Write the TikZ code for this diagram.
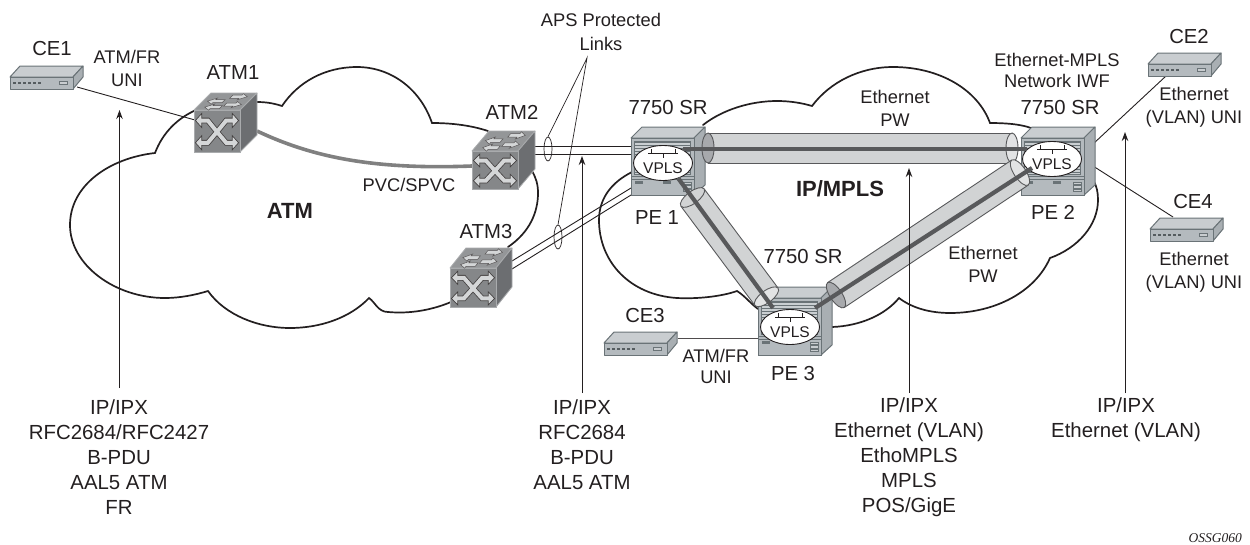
\documentclass[tikz,border=0pt]{standalone}
\usepackage{fontspec}
\setmainfont{Liberation Sans}
\newfontfamily\reffont{Liberation Serif}
\usetikzlibrary{arrows.meta,shapes.geometric}
\definecolor{ink}{HTML}{231F20}
\definecolor{cubefront}{HTML}{858789}
\definecolor{cubetop}{HTML}{949698}
\definecolor{cubeside}{HTML}{6C6E71}
\definecolor{cubeedge}{HTML}{A9ABAD}
\definecolor{xlight}{HTML}{D4D6D7}
\definecolor{devfront}{HTML}{B4BABE}
\definecolor{devtop}{HTML}{C9CDD0}
\definecolor{devside}{HTML}{A9AFB3}
\definecolor{devedge}{HTML}{6A7377}
\definecolor{tubebody}{HTML}{D1D3D4}
\definecolor{tubeedge}{HTML}{58595B}
\definecolor{tubeend}{HTML}{A7A9AC}
\definecolor{tubefar}{HTML}{E2E3E4}
\definecolor{pwline}{HTML}{58595B}
\tikzset{
  cloudline/.style={draw=ink,line width=1.7pt,line cap=round,line join=miter},
  thinlink/.style={draw=ink,line width=0.9pt},
  flowarrow/.style={draw=ink,line width=0.9pt,-{Stealth[length=9pt,width=6.5pt]}},
  label/.style={inner sep=0pt,text=ink,font=\fontsize{18.3}{23}\selectfont,align=center},
  devlabel/.style={inner sep=0pt,text=ink,font=\fontsize{20.3}{24}\selectfont,align=center},
  stack/.style={inner sep=0pt,text=ink,font=\fontsize{20.4}{25}\selectfont,align=center},
  boldlabel/.style={inner sep=0pt,text=ink,font=\fontsize{22}{26}\bfseries\selectfont},
  vplsnode/.style={shape=ellipse,draw=ink,line width=0.9pt,fill=white,minimum width=59pt,minimum height=35pt,inner sep=0pt},
  vplstext/.style={inner sep=0pt,text=ink,font=\fontsize{15.5}{18}\selectfont},
  pw/.style={draw=pwline,line width=4.2pt},
  apsring/.style={draw=ink,line width=0.7pt,shape=ellipse,minimum width=8pt,minimum height=24pt,inner sep=0pt},
}
\newcommand{\cedev}[2]{%
  \begin{scope}[shift={(#1,#2)}]
    \draw[devedge,line width=1pt,line join=round,fill=devtop] (0,0)--(10,-11)--(73,-11)--(63,0)--cycle;
    \draw[devedge,line width=1pt,line join=round,fill=devside] (63,0)--(73,-11)--(73,0)--(63,12)--cycle;
    \draw[devedge,line width=1pt,line join=round,fill=devfront] (0,0) rectangle (63,12);
    \foreach \k in {0,1,2,3,4,5} {\fill[devedge!80!black] (3+\k*5,4.6) rectangle (6+\k*5,7);}
    \draw[devedge,line width=0.7pt,fill=devtop] (49,4) rectangle (57,7.5);
  \end{scope}}
\newcommand{\xarrow}[1]{%
  \draw[#1] (.12,.25)--(.30,.25)--(.50,.52)--(.70,.78)--(.88,.78)
            (.12,.78)--(.30,.78)--(.50,.52)--(.70,.25)--(.88,.25);}
\newcommand{\xhead}[1]{%
  \path[#1] (.03,.25)--(.17,.08)--(.17,.42)--cycle
            (.97,.25)--(.83,.08)--(.83,.42)--cycle
            (.03,.78)--(.17,.61)--(.17,.95)--cycle
            (.97,.78)--(.83,.61)--(.83,.95)--cycle;}
\newcommand{\toparrow}[2]{%
  \draw[fill=xlight,draw=ink!75,line width=.5pt] (#1) ++(-.18*#2,-.09)--++(.2*#2,0)--++(0,-.09)--++(.15*#2,.18)--++(-.15*#2,.18)--++(0,-.09)--++(-.2*#2,0)--cycle;}
\newcommand{\cubedev}[5]{%
  \begin{scope}[shift={(#1,#2)}]
    \draw[cubeedge,line width=.8pt,line join=round,fill=cubetop] (0,0)--(#4,-#5)--(46+#4,-#5)--(46,0)--cycle;
    \draw[cubeedge,line width=.8pt,line join=round,fill=cubeside] (46,0)--(46+#4,-#5)--(46+#4,#3-#5)--(46,#3)--cycle;
    \draw[cubeedge,line width=.8pt,fill=cubefront] (0,0) rectangle (46,#3);
    \begin{scope}[x={(46pt,0pt)},y={(0pt,-#3pt)}]
      \xarrow{draw=ink!85,line width=5.6pt}
      \xhead{fill=xlight,draw=ink!85,line width=.7pt}
      \xarrow{draw=xlight,line width=4pt}
    \end{scope}
    \begin{scope}[x={(46pt,0pt)},y={(#4pt,#5pt)}]
      \toparrow{.27,.52}{-1}
      \toparrow{.70,.78}{1}
      \toparrow{.34,.17}{-1}
      \toparrow{.74,.32}{1}
    \end{scope}
  \end{scope}}
\newcommand{\srdev}[2]{%
  \begin{scope}[shift={(#1,#2)}]
    \draw[devedge,line width=1pt,line join=round,fill=devtop] (0,0)--(11,-11)--(74,-11)--(63,0)--cycle;
    \draw[devedge,line width=1pt,line join=round,fill=devside] (63,0)--(74,-11)--(74,47)--(63,57)--cycle;
    \draw[devedge,line width=1pt,fill=devfront] (0,0) rectangle (63,57);
    \fill[devedge] (3,3) rectangle (60,37);
    \fill[devfront!70!white] (4,5) rectangle (59,36);
    \foreach \k in {7,10,...,34} {\draw[devedge,line width=.5pt] (4,\k)--(59,\k);}
    \draw[devedge,line width=1pt] (0,38)--(63,38);
    \draw[devedge,line width=.8pt] (0,41)--(63,41);
    \fill[devedge] (4,43) rectangle (12,45.5);
    \fill[devedge] (32,43) rectangle (40,45.5);
    \foreach \k in {44,47.5,51} {\draw[devedge,fill=devtop,line width=.5pt] (52,\k) rectangle (60,\k+2.5);}
  \end{scope}}
\newcommand{\pwtube}[7]{%
  \begin{scope}[shift={(#1,#2)},rotate=#3]
    \fill[tubebody] (0,-#5) rectangle (#4,#5);
    \draw[tubeedge,line width=.9pt] (0,-#5)--(#4,-#5) (0,#5)--(#4,#5);
    \draw[tubeedge,line width=.9pt,fill=#7] (#4,0) ellipse [x radius=6,y radius=#5];
    \draw[tubeedge,line width=.9pt,fill=#6] (0,0) ellipse [x radius=6,y radius=#5];
  \end{scope}}
\begin{document}
\begin{tikzpicture}[x=1pt,y=-1pt]
\useasboundingbox (0,0) rectangle (1250,544);
% clouds
\draw[cloudline] (196,110) .. controls (178,118) and (163,132) .. (155,153)
  .. controls (110,158) and (70,185) .. (70,225)
  .. controls (70,265) and (115,298) .. (165,298)
  .. controls (180,298) and (195,295) .. (208,291)
  .. controls (225,315) and (258,328) .. (290,328)
  .. controls (320,328) and (350,318) .. (369,298)
  .. controls (375,302) and (378,312) .. (388,312)
  .. controls (410,314) and (432,310) .. (451,302);
\draw[cloudline] (508,247) .. controls (530,232) and (538,212) .. (538,193)
  .. controls (538,184) and (536,178) .. (532,171);
\draw[cloudline] (488,131) .. controls (470,125) and (450,123) .. (432,123)
  .. controls (420,88) and (390,67) .. (357,67)
  .. controls (325,67) and (298,82) .. (282,106)
  .. controls (273,103) and (265,102) .. (257,102);
\draw[cloudline] (703,125) .. controls (722,110) and (750,101) .. (777,101)
  .. controls (790,101) and (802,103) .. (812,106)
  .. controls (830,82) and (860,67) .. (893,67)
  .. controls (940,67) and (978,90) .. (990,123)
  .. controls (1005,123) and (1020,124) .. (1031,128);
\draw[cloudline] (1093,180) .. controls (1097,186) and (1098,193) .. (1098,200)
  .. controls (1098,225) and (1078,248) .. (1050,258)
  .. controls (1035,292) and (995,313) .. (950,313)
  .. controls (930,313) and (912,308) .. (899,298)
  .. controls (885,315) and (860,326) .. (832,327);
\draw[cloudline] (758,309) .. controls (750,303) and (745,296) .. (737,291)
  .. controls (720,297) and (695,299) .. (677,298)
  .. controls (630,295) and (599,262) .. (599,220)
  .. controls (599,198) and (612,182) .. (632,172);
% connector end points
\coordinate (ce1port) at (77,87);
\coordinate (atm1in) at (195,120);
\coordinate (atm1out) at (257,131);
\coordinate (atm2in) at (472,166);
\coordinate (atm2a) at (535,146);
\coordinate (atm2b) at (535,154);
\coordinate (pe1a) at (632,146);
\coordinate (pe1b) at (632,154);
\coordinate (atm3a) at (512,261);
\coordinate (atm3b) at (512,269);
\coordinate (pe1c) at (631,188);
\coordinate (pe1d) at (631,195);
\coordinate (ce2port) at (1166,76);
\coordinate (pe2a) at (1093,144);
\coordinate (ce4port) at (1173,217);
\coordinate (pe2b) at (1093,166);
\coordinate (ce3port) at (678,338);
\coordinate (pe3in) at (758,338);
\coordinate (apsapex) at (587,58);
\coordinate (a1s) at (119.5,388);
\coordinate (a1e) at (119.5,110);
\coordinate (a2s) at (582,393);
\coordinate (a2e) at (582,156);
\coordinate (a3s) at (909,393);
\coordinate (a3e) at (909,168);
\coordinate (a4s) at (1125,393);
\coordinate (a4e) at (1125,132);
\coordinate (pw1a) at (683,149);
\coordinate (pw1b) at (1027,149);
\coordinate (pw2a) at (678,178);
\coordinate (pw2b) at (773,308);
\coordinate (pw3a) at (815,308);
\coordinate (pw3b) at (1032,168);
% links under devices
\draw[thinlink] (ce1port)--(atm1in);
\draw[draw=black!50,line width=3.6pt] (atm1out) .. controls (310,156) and (370,170) .. (atm2in);
\draw[thinlink] (atm2a)--(pe1a) (atm2b)--(pe1b);
\draw[thinlink] (atm3a)--(pe1c) (atm3b)--(pe1d);
\draw[thinlink] (ce2port)--(pe2a);
\draw[thinlink] (ce4port)--(pe2b);
\draw[draw=ink!80,line width=1pt] (ce3port)--(pe3in);
% devices
\cedev{10}{77}
\cedev{1148}{64}
\cedev{1150}{229}
\cedev{604}{343}
\cubedev{194}{110}{42}{17}{17}
\cubedev{472}{151}{38}{17}{20}
\cubedev{450}{268}{39}{16}{20}
\srdev{631}{138}
\srdev{1021}{138}
\srdev{758}{298}
% pseudowire tubes
\pwtube{708}{148}{0}{304}{15}{tubeend}{tubefar}
\pwtube{692.5}{197.5}{-53.3}{123.8}{14.5}{tubebody}{tubefar}
\pwtube{836}{295}{33.65}{221}{15}{tubeend}{tubefar}
% VPLS ellipses
\node[vplsnode] (v1) at (663,163) {};
\node[vplsnode] (v2) at (1052,159) {};
\node[vplsnode] (v3) at (790,327) {};
\foreach \c in {v1,v2,v3} {
  \draw[ink,line width=.7pt] (\c.center) ++(-15,-10)--++(30,0);
  \draw[ink,line width=.7pt] (\c.center) ++(-12,-14)--++(0,4);
  \draw[ink,line width=.7pt] (\c.center) ++(12,-14)--++(0,4);
  \draw[ink,line width=.7pt] (\c.center) ++(0,-10)--++(0,5);
}
\node[vplstext] (v1t) at (663,168) {VPLS};
\node[vplstext] (v2t) at (1052,164) {VPLS};
\node[vplstext] (v3t) at (790,332) {VPLS};
\draw[pw] (pw1a)--(pw1b);
\draw[pw] (pw2a)--(pw2b);
\draw[pw] (pw3a)--(pw3b);
% APS rings and leaders
\node[apsring] (ring1) at (548,149) {};
\node[apsring] (ring2) at (558,237) {};
\draw[thinlink,line width=.7pt] (ring1.north)--(apsapex)--(ring2.north);
% flow arrows
\draw[flowarrow] (a1s)--(a1e);
\draw[flowarrow] (a2s)--(a2e);
\draw[flowarrow] (a3s)--(a3e);
\draw[flowarrow] (a4s)--(a4e);
% labels
\node[devlabel] (lce1) at (52,49) {CE1};
\node[label] (luni1) at (127,68.5) {ATM/FR\\UNI};
\node[devlabel] (latm1) at (233,73) {ATM1};
\node[devlabel] (latm2) at (512,112) {ATM2};
\node[devlabel] (latm3) at (486,232) {ATM3};
\node[devlabel] (lsr1) at (668,108) {7750 SR};
\node[devlabel] (lpe1) at (657,218) {PE 1};
\node[label,font=\fontsize{18.3}{24.5}\selectfont] (laps) at (601,32) {APS Protected\\Links};
\node[label] (lpvc) at (409,185) {PVC/SPVC};
\node[boldlabel] (latm) at (290,211) {ATM};
\node[boldlabel] (lmpls) at (840,189) {IP/MPLS};
\node[label] (lpw1) at (895,108) {Ethernet\\PW};
\node[label,font=\fontsize{18.3}{21.5}\selectfont] (liwf) at (1057,70.5) {Ethernet-MPLS\\Network IWF};
\node[devlabel] (lsr2) at (1060,108) {7750 SR};
\node[devlabel] (lce2) at (1189,37) {CE2};
\node[label] (luni2) at (1194,107) {Ethernet\\(VLAN) UNI};
\node[devlabel] (lpe2) at (1053,212) {PE 2};
\node[devlabel] (lce4) at (1193,202) {CE4};
\node[label] (luni4) at (1194,272.5) {Ethernet\\(VLAN) UNI};
\node[label] (lpw2) at (983,264) {Ethernet\\PW};
\node[devlabel] (lsr3) at (803,257) {7750 SR};
\node[devlabel] (lce3) at (645,316) {CE3};
\node[label,font=\fontsize{18.3}{21.5}\selectfont] (luni3) at (716,366.5) {ATM/FR\\UNI};
\node[devlabel] (lpe3) at (793,374) {PE 3};
\node[stack] (lc1) at (119,457) {IP/IPX\\RFC2684/RFC2427\\B-PDU\\AAL5 ATM\\FR};
\node[stack] (lc2) at (582,444.5) {IP/IPX\\RFC2684\\B-PDU\\AAL5 ATM};
\node[stack] (lc3) at (909,457) {IP/IPX\\Ethernet (VLAN)\\EthoMPLS\\MPLS\\POS/GigE};
\node[stack] (lc4) at (1126,419.5) {IP/IPX\\Ethernet (VLAN)};
\node[inner sep=0pt,anchor=east,text=ink,font=\reffont\fontsize{13.5}{15}\itshape\selectfont] (lref) at (1242,538) {OSSG060};
\end{tikzpicture}
\end{document}
